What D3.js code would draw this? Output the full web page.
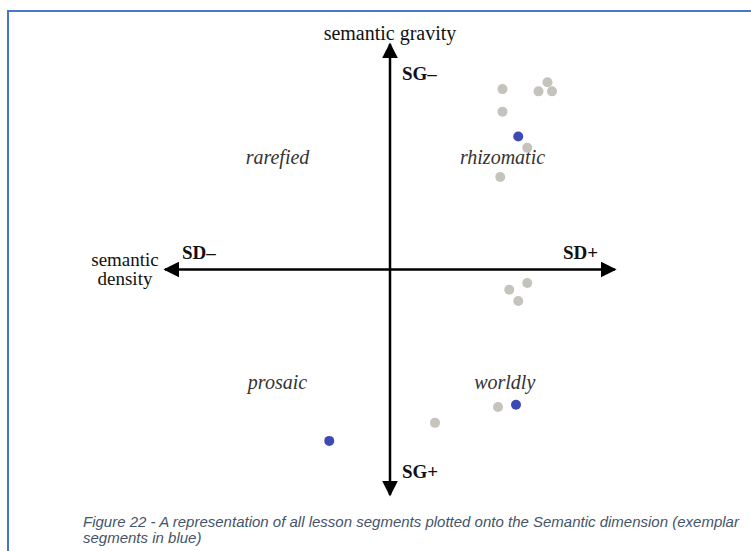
<!DOCTYPE html>
<html>
<head>
<meta charset="utf-8">
<script src="https://cdn.jsdelivr.net/npm/d3@7"></script>
<style>
  body { margin: 0; background: #fff; }
  svg { display: block; }
  .serif { font-family: "Liberation Serif", "Times New Roman", serif; fill: #111; }
  .pole { font-weight: bold; font-size: 19px; }
  .quad { font-style: italic; font-size: 20px; fill: #333; }
  .caption { font-family: "Liberation Sans Narrow", "Arial Narrow", "Liberation Sans", sans-serif;
             font-style: italic; font-size: 15px; fill: #44546a; }
</style>
</head>
<body>
<div id="chart"></div>
<script>
var width = 751, height = 551;

// semantic density (x, SD- .. SD+) and semantic gravity (y, up = SG-)
var greyPoints = [
  [0.50, 0.80], [0.70, 0.83], [0.66, 0.79], [0.72, 0.79], [0.50, 0.70],
  [0.61, 0.54], [0.49, 0.41],
  [0.53, -0.09], [0.61, -0.06], [0.57, -0.14],
  [0.48, -0.61], [0.20, -0.68]
];
var bluePoints = [
  [0.57, 0.59], [0.56, -0.60], [-0.27, -0.76]
];
var quadrants = [
  {name: "rarefied", x: -0.50, y: 0.50},
  {name: "rhizomatic", x: 0.50, y: 0.50},
  {name: "prosaic", x: -0.50, y: -0.50},
  {name: "worldly", x: 0.51, y: -0.50}
];
var captionLines = [
  "Figure 22 - A representation of all lesson segments plotted onto the Semantic dimension (exemplar",
  "segments in blue)"
];

var x = d3.scaleLinear().domain([-1, 1]).range([165, 615]);
var y = d3.scaleLinear().domain([-1, 1]).range([495, 44]);

var svg = d3.select("#chart").append("svg")
    .attr("width", width)
    .attr("height", height);

// frame
svg.append("path")
  .attr("d", "M8," + height + " L8,11 L" + width + ",11")
  .attr("fill", "none")
  .attr("stroke", "#4a76c8")
  .attr("stroke-width", 2);

var defs = svg.append("defs");
defs.append("marker")
  .attr("id", "arrow")
  .attr("viewBox", "0 0 10 10")
  .attr("refX", 9).attr("refY", 5)
  .attr("markerWidth", 16).attr("markerHeight", 16)
  .attr("markerUnits", "userSpaceOnUse")
  .attr("orient", "auto")
  .append("path")
  .attr("d", "M0,0 L10,5 L0,10 Z")
  .attr("fill", "#000");

var g = svg.append("g");

// axes, each arm drawn out from the origin
var arms = [[1, 0], [-1, 0], [0, 1], [0, -1]];
g.selectAll(".arm")
  .data(arms).enter()
  .append("line")
  .attr("class", "arm")
  .attr("x1", x(0)).attr("y1", y(0))
  .attr("x2", function(d) { return x(d[0]); })
  .attr("y2", function(d) { return y(d[1]); })
  .attr("stroke", "#000").attr("stroke-width", 2.5)
  .attr("marker-end", "url(#arrow)");

// axis titles
g.append("text").attr("class", "serif")
  .attr("x", x(0)).attr("y", 40)
  .attr("text-anchor", "middle")
  .attr("font-size", 20)
  .text("semantic gravity");

var sd = g.append("text").attr("class", "serif")
  .attr("text-anchor", "middle")
  .attr("font-size", 19);
sd.append("tspan").attr("x", 125).attr("y", 266).text("semantic");
sd.append("tspan").attr("x", 125).attr("y", 285).text("density");

// pole labels
g.append("text").attr("class", "serif pole").attr("x", x(0) + 12).attr("y", 80).text("SG\u2013");
g.append("text").attr("class", "serif pole").attr("x", x(0) + 12).attr("y", 478).text("SG+");
g.append("text").attr("class", "serif pole").attr("x", 182).attr("y", 259).text("SD\u2013");
g.append("text").attr("class", "serif pole").attr("x", 563).attr("y", 259).text("SD+");

// quadrant labels
g.selectAll(".quad")
  .data(quadrants).enter()
  .append("text")
  .attr("class", "serif quad")
  .attr("text-anchor", "middle")
  .attr("x", function(d) { return x(d.x); })
  .attr("y", function(d) { return y(d.y) + 7; })
  .text(function(d) { return d.name; });

// points
g.selectAll(".grey")
  .data(greyPoints).enter()
  .append("circle")
  .attr("class", "grey")
  .attr("cx", function(d) { return x(d[0]); })
  .attr("cy", function(d) { return y(d[1]); })
  .attr("r", 5)
  .attr("fill", "#c5c3bc");

g.selectAll(".blue")
  .data(bluePoints).enter()
  .append("circle")
  .attr("class", "blue")
  .attr("cx", function(d) { return x(d[0]); })
  .attr("cy", function(d) { return y(d[1]); })
  .attr("r", 5)
  .attr("fill", "#3d4ab3");

// caption
g.selectAll(".caption")
  .data(captionLines).enter()
  .append("text")
  .attr("class", "caption")
  .attr("x", 83)
  .attr("y", function(d, i) { return 527 + i * 16; })
  .text(function(d) { return d; });
</script>
</body>
</html>
